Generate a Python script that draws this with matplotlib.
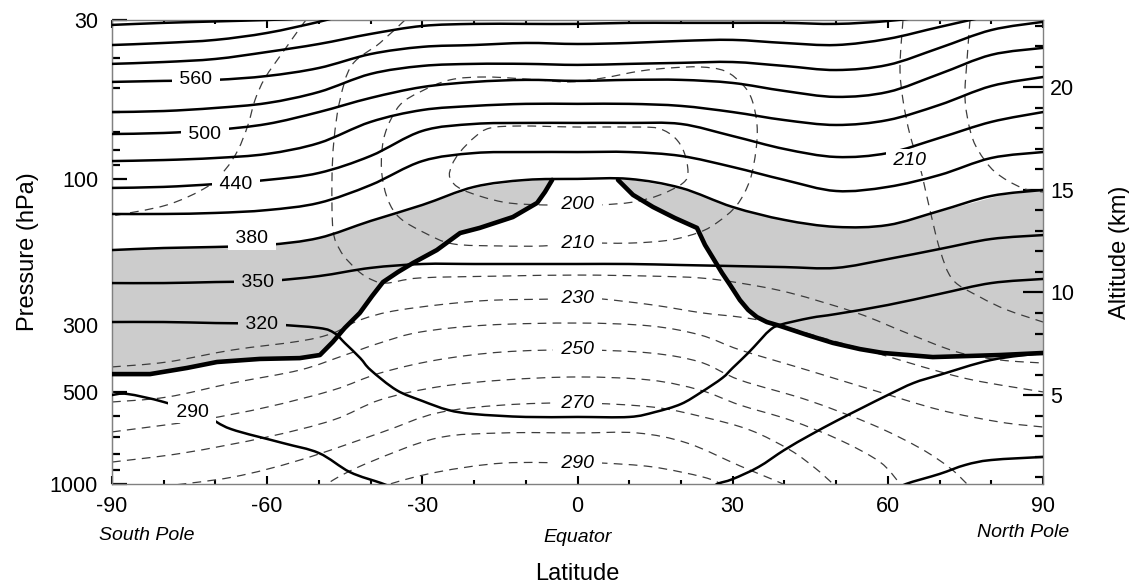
import numpy as np
import matplotlib
matplotlib.use("Agg")
import matplotlib.pyplot as plt
from matplotlib.ticker import NullFormatter
from matplotlib.path import Path
from matplotlib.patches import PathPatch

plt.rcParams['font.family'] = ['Liberation Sans', 'DejaVu Sans']

# ---------------------------------------------------------------------------
# Data: latitude (deg) and log-pressure altitude (km, right-hand axis)
# ---------------------------------------------------------------------------
lat_grid = [-90, -80, -70, -60, -50, -40, -30, -20, -10, 0, 10, 20, 30, 40, 50, 60, 70, 80, 90]

# potential temperature (solid) contours on lat_grid
theta_350 = [10.46, 10.46, 10.51, 10.56, 10.80, 11.20, 11.39, 11.39, 11.39, 11.39, 11.39, 11.34, 11.29, 11.24, 11.20, 11.63, 12.12, 12.61, 12.80]
theta_380 = [12.07, 12.17, 12.22, 12.32, 12.66, 13.49, 14.27, 15.15, 15.49, 15.54, 15.54, 15.10, 14.17, 13.54, 13.20, 13.29, 13.98, 14.71, 15.00]
theta_410 = [13.83, 13.83, 13.88, 14.02, 14.37, 15.24, 16.41, 16.80, 16.85, 16.85, 16.85, 16.66, 16.12, 15.49, 14.95, 15.15, 15.73, 16.56, 16.85]
theta_440 = [15.10, 15.15, 15.29, 15.49, 15.83, 16.66, 17.88, 18.22, 18.27, 18.27, 18.27, 18.22, 17.63, 17.00, 16.61, 16.80, 17.54, 18.32, 18.80]
theta_470 = [16.41, 16.46, 16.56, 16.76, 17.29, 18.32, 18.90, 19.10, 19.20, 19.20, 19.20, 19.10, 18.80, 18.41, 18.17, 18.41, 19.15, 20.07, 20.51]
theta_500 = [17.73, 17.78, 17.93, 18.22, 18.80, 19.49, 20.02, 20.27, 20.37, 20.32, 20.37, 20.37, 20.22, 19.83, 19.54, 19.78, 20.66, 21.59, 21.93]
theta_530 = [18.80, 18.85, 19.00, 19.24, 19.78, 20.66, 21.05, 21.15, 21.15, 21.10, 21.15, 21.20, 21.24, 21.05, 20.85, 21.10, 21.93, 22.80, 23.20]
theta_560 = [20.27, 20.32, 20.37, 20.56, 20.95, 21.63, 21.98, 22.07, 22.17, 22.12, 22.17, 22.27, 22.32, 22.17, 22.07, 22.37, 22.95, 23.49, 23.78]
theta_590 = [21.15, 21.24, 21.39, 21.73, 22.12, 22.61, 23.00, 23.10, 23.10, 23.10, 23.15, 23.15, 23.15, 23.15, 23.10, 23.24, 23.54]
theta_620_lat = [-90, -80, -70, -60, -50, -45]
theta_620 = [22.07, 22.17, 22.32, 22.66, 23.20, 23.54]
theta_650_lat = [-90, -80, -70, -60, -55]
theta_650 = [23.05, 23.15, 23.22, 23.29, 23.34]

theta_320_lat = [-90, -80, -70, -60, -50, -47, -45, -42, -40, -35, -30, -25, -20, -10, 0, 10, 15, 20, 24, 28,
                 30, 33, 35, 37, 39, 45, 50, 60, 70, 80, 90]
theta_320 = [8.56, 8.56, 8.51, 8.46, 8.27, 8.02, 7.54, 6.80, 6.22, 5.24, 4.71, 4.27, 4.07, 3.93, 3.93, 3.93, 4.17, 4.56,
             5.15, 5.83, 6.32, 7.05, 7.59, 8.12, 8.41, 8.76, 8.95, 9.39, 9.93, 10.46, 10.66]
theta_290s_lat = [-90, -87, -80, -72, -67, -57, -50, -44, -38, -36]
theta_290s = [5.00, 5.05, 4.66, 3.98, 3.34, 2.66, 2.17, 1.24, 0.71, 0.51]
theta_290n_lat = [26, 27, 30, 35, 40, 45, 50, 55, 60, 65, 70, 80, 90]
theta_290n = [0.37, 0.66, 0.90, 1.49, 2.32, 3.05, 3.73, 4.37, 5.00, 5.59, 5.98, 6.71, 7.05]
theta_260_lat = [62, 63.5, 70, 75, 80, 90]
theta_260 = [0.37, 0.66, 1.15, 1.59, 1.83, 1.98]

# thermal tropopause (thick)
trop_sh_lat = [-90, -82.65, -75.5, -69.7, -61.4, -53.7, -49.8, -47.3, -45.0, -42.1, -39.7, -37.6, -34.7, -31.8,
               -27.2, -22.7, -18.9, -12.5, -7.8, -6.3, -4.9]
trop_sh = [6.02, 6.02, 6.32, 6.61, 6.76, 6.80, 6.95, 7.59, 8.27, 9.00, 9.83, 10.51, 11.00, 11.44,
           12.07, 12.90, 13.15, 13.68, 14.37, 14.90, 15.49]
trop_nh_lat = [7.83, 10.73, 14.6, 18.85, 23.1, 24.65, 26.2, 27.95, 29.5, 31.4, 33.0, 34.7, 36.6, 39.15, 44.4,
               49.4, 54.6, 59.1, 68.7, 81.7, 90]
trop_nh = [15.49, 14.76, 14.17, 13.63, 13.15, 12.32, 11.68, 10.95, 10.37, 9.63, 9.15, 8.80, 8.56, 8.37, 7.93,
           7.54, 7.24, 7.05, 6.85, 6.95, 7.05]

# temperature (dashed) contours, K
t200_lat = [0, -6.67, -14.40, -22.14, -24.65, -24.26, -22.72, -19.82, -16.92, -11.12, 0.10, 12.08, 15.95, 18.85,
            20.59, 21.36, 20.40, 15.95, 10.73, 4.35, 0]
t200 = [14.27, 14.27, 14.41, 15.00, 15.59, 16.22, 16.85, 17.59, 18.02, 18.12, 18.07, 18.07, 17.98, 17.54,
        16.85, 15.88, 15.34, 14.76, 14.41, 14.27, 14.27]
t210_lat = [0, -6.67, -14.98, -24.07, -29.48, -34.32, -36.64, -37.80, -37.80, -36.83, -34.32, -30.45, -24.65,
            -17.50, -7.83, -1.45, 4.93, 12.08, 17.88, 23.68, 28.52, 32.00, 33.74, 34.71, 34.51, 33.35, 30.84,
            27.16, 23.68, 17.88, 10.15, 0]
t210 = [12.41, 12.27, 12.27, 12.37, 12.90, 13.63, 14.51, 15.73, 16.95, 18.02, 19.15, 19.78, 20.37, 20.51, 20.37,
        20.27, 20.46, 20.80, 20.95, 21.00, 20.80, 20.12, 19.39, 18.17, 16.95, 15.49, 14.27, 13.44, 12.95, 12.56,
        12.41, 12.41]
t210n_lat = [62.93, 62.35, 62.93, 64.29, 66.22, 68.15, 70.09, 72.60, 77.82, 83.04, 90]
t210n = [23.29, 21.00, 19.39, 17.68, 16.12, 14.02, 12.07, 10.61, 9.78, 9.15, 8.56]
t200n_lat = [75.89, 75.31, 74.92, 75.89, 77.43, 80.72, 85.94, 90]
t200n = [23.29, 21.34, 19.49, 17.93, 16.95, 15.88, 15.10, 14.90]
t220_lat = [-33.35, -38.19, -43.60, -45.92, -47.08, -47.47, -47.27, -45.92, -43.99, -41.08, -37.22, -30.45,
            -14.98, 0.10, 14.02, 23.68, 31.42, 41.08, 54.04, 63.70, 73.37, 81.68, 90]
t220 = [23.29, 22.17, 21.10, 19.39, 17.44, 15.49, 13.05, 12.07, 11.44, 10.80, 10.46, 10.71,
        10.80, 10.85, 10.80, 10.71, 10.46, 9.98, 9.00, 8.02, 7.10, 6.71, 6.56]
t230s_lat = [-52.49, -53.65, -56.94, -60.42, -62.35, -63.71, -65.64, -68.15, -71.63, -79.37, -90]
t230s = [23.29, 22.90, 21.73, 20.46, 19.39, 18.17, 16.95, 15.98, 15.15, 14.27, 13.73]
t230_lat = [-90, -79.37, -66.61, -53.65, -47.27, -42.05, -34.32, -18.85, -4.74, 0.10, 4.93, 14.60, 24.26, 31.42,
            37.80, 47.47, 57.13, 66.80, 76.47, 90]
t230 = [6.37, 6.61, 7.20, 7.63, 8.02, 8.66, 9.15, 9.59, 9.68, 9.73, 9.68, 9.39, 9.00, 8.80,
        8.51, 7.78, 7.10, 6.37, 5.73, 5.15]
t240_lat = [-90, -79.37, -66.61, -53.65, -44.95, -38.19, -30.45, -17.50, 0.10, 14.02, 23.68, 31.42, 44.37,
            57.13, 70.09, 81.69, 90]
t240 = [4.66, 4.90, 5.59, 6.22, 6.95, 7.54, 8.07, 8.41, 8.51, 8.37, 7.93, 7.20, 6.22, 5.24, 4.27, 3.68, 3.44]
t250_lat = [-90, -72.99, -60.03, -47.27, -38.19, -27.16, -14.40, 0.10, 14.02, 23.68, 31.42, 44.37, 57.13, 66.22,
            72.02, 75.31, 76.85]
t250 = [3.20, 3.78, 4.41, 5.24, 6.07, 6.71, 7.10, 7.20, 7.05, 6.61, 5.73, 4.76, 3.54, 2.41, 1.44, 0.66, 0.27]
t260_lat = [-90, -76.27, -60.03, -47.27, -38.19, -27.16, -14.40, 0.10, 14.02, 23.68, 31.42, 41.08, 50.75, 58.49,
            62.35, 63.32]
t260 = [1.73, 2.17, 2.95, 3.78, 4.76, 5.39, 5.73, 5.88, 5.73, 5.24, 4.51, 3.78, 2.80, 1.73, 0.66, 0.27]
t270_lat = [-82.65, -80.72, -66.61, -53.65, -38.19, -27.16, -14.40, 0.10, 14.60, 24.26, 33.35, 41.08, 45.92,
            49.40, 50.75]
t270 = [0.27, 0.51, 1.00, 1.83, 3.15, 4.12, 4.51, 4.61, 4.41, 3.93, 3.29, 2.32, 1.44, 0.66, 0.27]
t280_lat = [-49.79, -47.27, -40.12, -27.16, -14.40, 0.10, 11.50, 21.17, 31.42, 39.73, 42.05]
t280 = [0.27, 0.85, 1.73, 2.90, 3.15, 3.15, 3.15, 2.66, 1.54, 0.66, 0.27]
t290_lat = [-38.19, -36.83, -27.16, -14.40, 0.10, 4.93, 14.60, 24.26, 28.13, 29.48]
t290 = [0.27, 0.61, 1.24, 1.68, 1.68, 1.68, 1.49, 1.00, 0.61, 0.27]

# contour labels
theta_label_text = ['560', '500', '440', '380', '350', '320', '290']
theta_label_lat = [-73.8, -72.0, -66.0, -62.9, -61.8, -61.0, -74.5]
theta_label_z = [20.37, 17.73, 15.29, 12.61, 10.51, 8.46, 4.17]
theta_label_bg = ['white', 'white', 'white', 'white', '#cccccc', '#cccccc', 'white']
temp_label_text = ['200', '210', '230', '250', '270', '290', '210']
temp_label_lat = [0, 0, 0, 0, 0, 0, 64.3]
temp_label_z = [14.27, 12.41, 9.73, 7.20, 4.61, 1.68, 16.46]

lat_major = [-90, -60, -30, 0, 30, 60, 90]
lat_minor = [-80, -70, -50, -40, -20, -10, 10, 20, 40, 50, 70, 80]
p_major = [30, 100, 300, 500, 1000]
p_minor = [40, 50, 60, 70, 80, 90, 200, 400, 600, 700, 800, 900]
alt_major = [5, 10, 15, 20]
alt_minor = [1, 2, 3, 4, 6, 7, 8, 9, 11, 12, 13, 14, 16, 17, 18, 19, 21, 22, 23]

# log-pressure altitude relation between the two vertical axes
Z_A, Z_B = 45.24, 14.86


def p_to_z(p):
    return Z_A - Z_B * np.log10(p)


def z_to_p(z):
    return 10 ** ((Z_A - np.asarray(z, dtype=float)) / Z_B)


def smooth_curve(ax, xs, ys, closed=False, dashed=False, **kw):
    """Draw a smooth (Catmull-Rom as cubic Bezier) curve passing through the given points."""
    P = np.column_stack([xs, ys]).astype(float)
    if closed:
        P = P[:-1]
        E = np.vstack([P[-1], P, P[0], P[1]])
        nseg = len(P)
    else:
        E = np.vstack([P[0], P, P[-1]])
        nseg = len(P) - 1
    verts = [E[1]]
    codes = [Path.MOVETO]
    for i in range(nseg):
        p0, p1, p2, p3 = E[i], E[i + 1], E[i + 2], E[i + 3]
        verts += [p1 + (p2 - p0) / 6.0, p2 - (p3 - p1) / 6.0, p2]
        codes += [Path.CURVE4] * 3
    patch = PathPatch(Path(verts, codes), fill=False, **kw)
    patch.set_capstyle('round' if not dashed else 'butt')
    patch.set_joinstyle('round')
    ax.add_patch(patch)


# ---------------------------------------------------------------------------
GREY = '#cccccc'
fig = plt.figure(figsize=(11.29, 5.87), dpi=100)
ax = fig.add_axes([112 / 1129, 1 - 484 / 587, 931 / 1129, 464 / 587])
ax.set_xlim(-90, 90)
ax.set_ylim(p_to_z(1000), p_to_z(30))
ax.set_autoscale_on(False)

# shaded region between 380 K surface and tropopause
ax.fill_between(trop_sh_lat, trop_sh, np.interp(trop_sh_lat, lat_grid, theta_380), color=GREY, lw=0, zorder=1)
ax.fill_between(trop_nh_lat, trop_nh, np.interp(trop_nh_lat, lat_grid, theta_380), color=GREY, lw=0, zorder=1)

dash_kw = dict(edgecolor='#3c3c3c', lw=0.9, linestyle=(0, (7, 5)), zorder=2)
smooth_curve(ax, t200_lat, t200, closed=True, dashed=True, **dash_kw)
smooth_curve(ax, t210_lat, t210, closed=True, dashed=True, **dash_kw)
for la, zz in [(t210n_lat, t210n), (t200n_lat, t200n), (t220_lat, t220),
               (t230s_lat, t230s), (t230_lat, t230), (t240_lat, t240), (t250_lat, t250), (t260_lat, t260),
               (t270_lat, t270), (t280_lat, t280), (t290_lat, t290)]:
    smooth_curve(ax, la, zz, dashed=True, **dash_kw)

solid_kw = dict(edgecolor='black', lw=1.8, zorder=3)
for zz in [theta_350, theta_380, theta_410, theta_440, theta_470, theta_500, theta_530, theta_560]:
    smooth_curve(ax, lat_grid, zz, **solid_kw)
smooth_curve(ax, lat_grid[:len(theta_590)], theta_590, **solid_kw)
smooth_curve(ax, theta_620_lat, theta_620, **solid_kw)
smooth_curve(ax, theta_650_lat, theta_650, **solid_kw)
smooth_curve(ax, theta_320_lat, theta_320, **solid_kw)
smooth_curve(ax, theta_290s_lat, theta_290s, **solid_kw)
smooth_curve(ax, theta_290n_lat, theta_290n, **solid_kw)
smooth_curve(ax, theta_260_lat, theta_260, **solid_kw)

trop_kw = dict(color='black', lw=3.3, zorder=4, solid_joinstyle='round', solid_capstyle='round')
ax.plot(trop_sh_lat, trop_sh, **trop_kw)
ax.plot(trop_nh_lat, trop_nh, **trop_kw)

for t, la, zz, bg in zip(theta_label_text, theta_label_lat, theta_label_z, theta_label_bg):
    ax.text(la, zz, ' ' + t + ' ', ha='center', va='center', fontsize=14, zorder=6,
            bbox=dict(boxstyle='square,pad=0.12', fc=bg, ec='none'))
for t, la, zz in zip(temp_label_text, temp_label_lat, temp_label_z):
    ax.text(la, zz, ' ' + t + ' ', ha='center', va='center', fontsize=14, style='italic', zorder=6,
            bbox=dict(boxstyle='square,pad=0.12', fc='white', ec='none'))

# ---- axes decoration
for s in ax.spines.values():
    s.set_color('#808080')
    s.set_linewidth(1.0)

ax.set_xticks(lat_major)
ax.set_xticklabels([str(v) for v in lat_major])
ax.set_xticks(lat_minor, minor=True)
ax.tick_params(axis='x', which='both', direction='in', top=True, bottom=True, width=1.5, color='black')
ax.tick_params(axis='x', which='major', length=6, labelsize=15.5, pad=9)
ax.tick_params(axis='x', which='minor', length=3)

ax.yaxis.tick_right()
ax.yaxis.set_label_position('right')
ax.set_yticks(alt_major)
ax.set_yticklabels([str(v) for v in alt_major])
ax.set_yticks(alt_minor, minor=True)
ax.tick_params(axis='y', which='both', direction='in', left=False, right=True, width=1.6, color='black')
ax.tick_params(axis='y', which='major', length=14.5, labelsize=15.5, pad=5)
ax.tick_params(axis='y', which='minor', length=6)
ax.set_ylabel('Altitude (km)', fontsize=17, labelpad=25)

sec = ax.secondary_yaxis('left', functions=(z_to_p, p_to_z))
sec.set_yticks(p_major)
sec.set_yticklabels([str(v) for v in p_major])
sec.set_yticks(p_minor, minor=True)
sec.yaxis.set_minor_formatter(NullFormatter())
sec.tick_params(which='both', direction='in', width=1.6, color='black')
sec.tick_params(which='major', length=11, labelsize=15.5, pad=10)
sec.tick_params(which='minor', length=5.5)
sec.spines['left'].set_color('#808080')
sec.set_ylabel('Pressure (hPa)', fontsize=17, labelpad=8)

ax.set_xlabel('Latitude', fontsize=17, labelpad=33)

trans = ax.get_xaxis_transform()
ax.text(-83.2, -0.11, 'South Pole', transform=trans, ha='center', va='center', fontsize=14, style='italic')
ax.text(0, -0.115, 'Equator', transform=trans, ha='center', va='center', fontsize=14, style='italic')
ax.text(86.1, -0.105, 'North Pole', transform=trans, ha='center', va='center', fontsize=14, style='italic')

fig.savefig('out.png', dpi=100)
